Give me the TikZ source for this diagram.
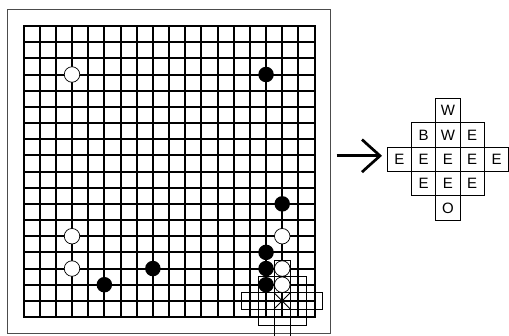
\documentclass[tikz,border=0pt]{standalone}
\usepackage{fontspec}
\setmainfont{Liberation Sans}
\begin{document}
\begin{tikzpicture}[x=1pt,y=-1pt,
  gridline/.style={line width=2pt,black,line cap=rect},
  framebox/.style={line width=1pt,black!70},
  whitestone/.style={circle,draw=black,line width=0.7pt,fill=white,minimum size=15.5pt,inner sep=0pt},
  blackstone/.style={circle,fill=black,minimum size=15.5pt,inner sep=0pt},
  patcell/.style={line width=0.9pt,black},
  tcell/.style={draw=black,line width=1pt,minimum size=24.3pt,inner sep=0pt,font=\fontsize{15}{15}\selectfont},
  arrowline/.style={line width=2.7pt,black}
]
\useasboundingbox (0,0) rectangle (509,336);
\clip (0,0) rectangle (509,336);
\def\gx{23.5}
\def\gy{26}
\def\gs{16.17}
% outer frame
\draw[framebox] (7.5,10) rectangle (330.7,333.3);
% grid
\foreach \i in {0,...,18} {
  \draw[gridline] ({\gx+\i*\gs},\gy) -- ({\gx+\i*\gs},{\gy+18*\gs});
  \draw[gridline] (\gx,{\gy+\i*\gs}) -- ({\gx+18*\gs},{\gy+\i*\gs});
}
% stones
\foreach \c/\r [count=\n] in {3/3,3/13,3/15,16/13,16/15,16/16}
  \node[whitestone] (w\n) at ({\gx+\c*\gs},{\gy+\r*\gs}) {};
\foreach \c/\r [count=\n] in {15/3,16/11,8/15,5/16,15/14,15/15,15/16}
  \node[blackstone] (b\n) at ({\gx+\c*\gs},{\gy+\r*\gs}) {};
% overlay pattern centred at (16,17)
\foreach \dc/\dr in {0/-2,-1/-1,0/-1,1/-1,-2/0,-1/0,0/0,1/0,2/0,-1/1,0/1,1/1,0/2}
  \draw[patcell] ({\gx+(16+\dc-0.5)*\gs},{\gy+(17+\dr-0.5)*\gs}) rectangle ++(\gs,\gs);
\coordinate (xa) at ({\gx+15.5*\gs},{\gy+16.5*\gs});
\coordinate (xb) at ({\gx+16.5*\gs},{\gy+17.5*\gs});
\coordinate (xc) at ({\gx+16.5*\gs},{\gy+16.5*\gs});
\coordinate (xd) at ({\gx+15.5*\gs},{\gy+17.5*\gs});
\draw[patcell] (xa) -- (xb) (xc) -- (xd);
% arrow
\coordinate (atail) at (336.7,155.8);
\coordinate (atip) at (380,155.8);
\coordinate (aup) at (362,139.5);
\coordinate (adown) at (362,172.1);
\draw[arrowline] (atail) -- ([xshift=-1.5pt]atip);
\draw[arrowline] (aup) .. controls (370,147) and (376,152) .. (atip) .. controls (376,159.6) and (370,164.6) .. (adown);
% table
\def\tx{447.9}
\def\ty{159.4}
\def\ts{24.3}
\foreach \dc/\dr/\t [count=\n] in {0/-2/W,-1/-1/B,0/-1/W,1/-1/E,-2/0/E,-1/0/E,0/0/E,1/0/E,2/0/E,-1/1/E,0/1/E,1/1/E,0/2/O}
  \node[tcell] (t\n) at ({\tx+\dc*\ts},{\ty+\dr*\ts}) {\t};
\end{tikzpicture}
\end{document}
